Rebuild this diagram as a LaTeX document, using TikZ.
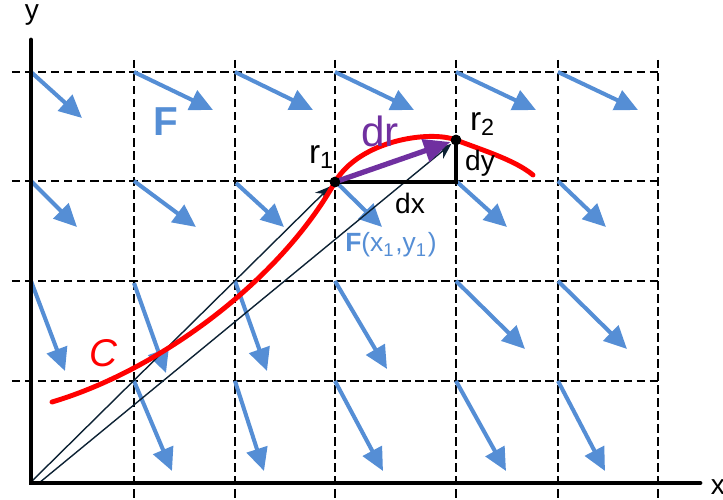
\documentclass[tikz,border=0pt]{standalone}
\usepackage{fontspec}
\setmainfont{Liberation Sans}
\usetikzlibrary{arrows.meta}
\definecolor{fieldblue}{RGB}{85,142,213}
\definecolor{drpurple}{RGB}{112,48,160}
\definecolor{posnavy}{RGB}{13,34,52}

\begin{document}
\begin{tikzpicture}[x=0.01cm,y=-0.01cm,
  gridline/.style={black,line width=0.4pt,dash pattern=on 2.4pt off 1.3pt},
  fieldvec/.style={fieldblue,line width=1.15pt,-{Triangle[length=6.5pt,width=6pt]}},
  posvec/.style={posnavy,line width=0.4pt,-{Stealth[length=4.5pt,width=3.6pt]}},
  ptdot/.style={circle,fill=black,inner sep=0pt,minimum size=3pt},
  lbl/.style={inner sep=1pt}]
\useasboundingbox (0,0) rectangle (723,500);
\foreach \gy in {72,181,281,381}{
  \draw[gridline](12,\gy)--(660,\gy);}
\foreach \gx in {134,235,335,456,558,658}{
  \draw[gridline](\gx,60)--(\gx,500);}
\foreach \px/\py/\u/\v in {31/72/51/46,134/72/79/38,235/72/78/38,335/72/79/38,456/72/80/38,558/72/80/38,
  31/181/46/46,134/181/62/46,236/183/48/44,335/181/47/46,456/181/51/46,558/181/48/46,
  31/281/34/90,134/283/32/90,235/281/32/90,335/281/52/88,456/281/69/68,558/281/69/68,
  134/381/38/90,235/381/29/90,335/381/48/90,456/381/50/90,558/381/47/90}{
  \draw[fieldvec](\px,\py)--++(\u,\v);}
\coordinate (O) at (30,483);
\coordinate (O2) at (39,483);
\coordinate (c) at (456,182);
\node[ptdot] (r1) at (335,182) {};
\node[ptdot] (r2) at (456,140) {};
\draw[posvec](O)--(r1);
\draw[posvec](O2)--(r2);
\draw[red,line width=1.4pt,line cap=round](52,402)
  .. controls (160,370) and (280,280) .. (r1.center)
  .. controls (360,140) and (430,130) .. (r2.center)
  .. controls (482,150) and (515,160) .. (533,175);
\draw[line width=1.2pt](r1.center)--(c)--(r2.center);
\draw[drpurple,line width=1.5pt,-{Triangle[length=7.5pt,width=6.5pt]}](r1.center)--(r2);
\node[ptdot] at (r1) {};
\node[ptdot] at (r2) {};
\draw[line width=1.4pt,line cap=round](31,40)--(31,483)--(700,483);
\node[lbl,font=\fontsize{8}{9}\selectfont] (ylab) at (32,15) {y};
\node[lbl,font=\fontsize{8}{9}\selectfont] (xlab) at (718,487) {x};
\node[lbl,text=fieldblue,font=\bfseries\fontsize{11.5}{13}\selectfont] (Flab) at (166,122) {F};
\node[lbl,font=\fontsize{9.5}{11}\selectfont] (r1lab) at (322,157) {r\textsubscript{1}};
\node[lbl,font=\fontsize{9.5}{11}\selectfont] (r2lab) at (483,124) {r\textsubscript{2}};
\node[lbl,text=drpurple,font=\fontsize{12}{14}\selectfont] (drlab) at (380,131) {dr};
\node[lbl,font=\fontsize{8}{9}\selectfont] (dylab) at (480,163) {dy};
\node[lbl,font=\fontsize{8}{9}\selectfont] (dxlab) at (410,203) {dx};
\node[lbl,text=fieldblue,font=\fontsize{7.5}{9}\selectfont] (Fxy) at (391,245) {\textbf{F}(x\textsubscript{1},y\textsubscript{1})};
\node[lbl,text=red,font=\itshape\fontsize{11}{13}\selectfont] (Clab) at (103,353) {C};
\end{tikzpicture}
\end{document}
